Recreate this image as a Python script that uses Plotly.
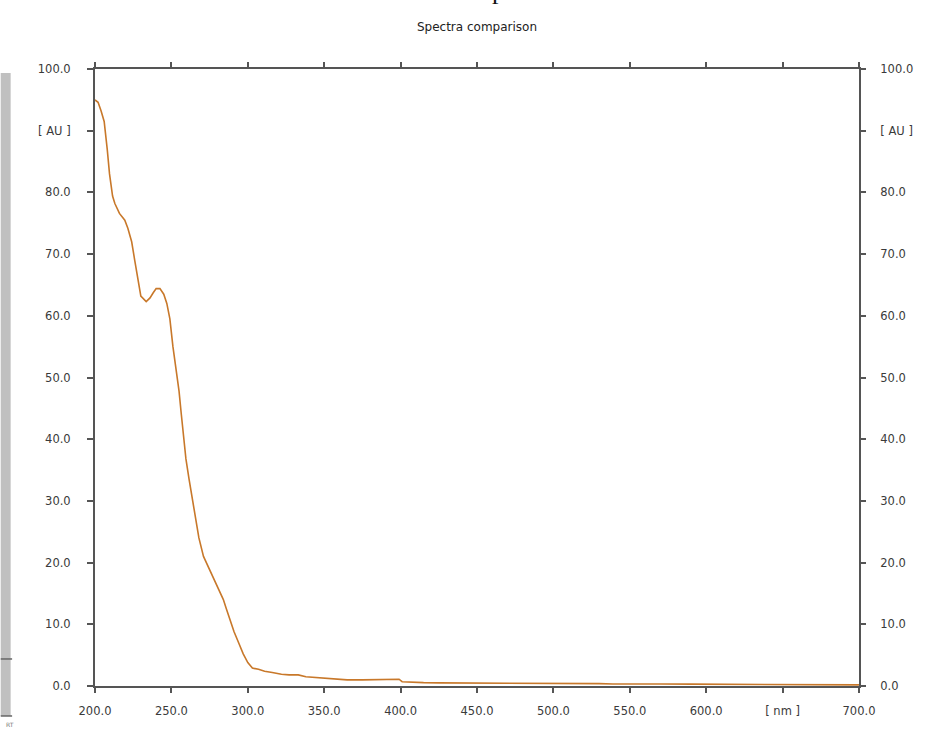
import plotly.graph_objects as go

# Absorbance spectrum (wavelength in nm, absorbance in AU)
wavelength = [200, 202, 204, 206, 208, 209.5, 211.5, 213, 216, 219.5, 221.5, 224, 226, 228, 230,
              233.5, 236, 238, 240, 242.5, 245, 247, 249, 251, 253, 255, 256.5, 258, 259.5, 261.5,
              264, 266, 268, 271, 274, 278, 281, 284, 286, 288, 291, 294, 297, 300, 303, 307, 311,
              316, 322, 327, 333, 338, 344, 350, 357, 365, 375, 387, 393, 399, 401, 408, 415, 425,
              437, 447, 459, 474, 490, 505, 517, 530, 539, 550, 570, 590, 605, 620, 640, 660, 680, 700]
absorbance = [95.0, 94.6, 93.2, 91.5, 87.0, 83.0, 79.4, 78.2, 76.6, 75.5, 74.2, 72.0, 69.0, 65.8, 63.2,
              62.3, 62.9, 63.7, 64.4, 64.4, 63.5, 62.0, 59.5, 55.0, 51.8, 47.8, 44.0, 40.6, 36.8, 33.6,
              30.0, 26.9, 24.0, 21.0, 19.4, 17.2, 15.5, 14.0, 12.5, 11.0, 8.8, 7.0, 5.2, 3.8, 2.9, 2.7, 2.4,
              2.2, 1.9, 1.8, 1.8, 1.5, 1.4, 1.2, 1.1, 1.0, 1.0, 1.0, 1.0, 1.1, 0.7, 0.6, 0.55, 0.5,
              0.5, 0.45, 0.5, 0.45, 0.42, 0.4, 0.4, 0.38, 0.32, 0.35, 0.33, 0.3, 0.28, 0.25, 0.22, 0.2, 0.2, 0.18]

x_ticks = [200, 250, 300, 350, 400, 450, 500, 550, 600, 650, 700]
x_labels = ["200.0", "250.0", "300.0", "350.0", "400.0", "450.0", "500.0", "550.0", "600.0", "[ nm ]", "700.0"]
y_ticks = [0, 10, 20, 30, 40, 50, 60, 70, 80, 90, 100]
y_labels = ["0.0", "10.0", "20.0", "30.0", "40.0", "50.0", "60.0", "70.0", "80.0", "[ AU ]", "100.0"]

LINE = "#c8782a"
AXIS = "#555555"
TXT = "#3a3a3a"
tick_font = dict(family="DejaVu Sans", size=11.5, color=TXT)

fig = go.Figure()
fig.add_trace(go.Scatter(x=wavelength, y=absorbance, mode="lines",
                         line=dict(color=LINE, width=1.6), hoverinfo="x+y", showlegend=False))
# transparent copy so the right-hand axis is laid out
fig.add_trace(go.Scatter(x=wavelength, y=absorbance, mode="lines", yaxis="y2",
                         line=dict(color="rgba(0,0,0,0)", width=0), hoverinfo="skip", showlegend=False))

fig.update_layout(
    width=925, height=740,
    margin=dict(l=95, r=60, t=69, b=54),
    paper_bgcolor="white", plot_bgcolor="white",
    title=dict(text="Spectra comparison", x=0.5, xref="paper", xanchor="center",
               y=1 - 27 / 740, yref="container", yanchor="middle",
               font=dict(family="DejaVu Sans", size=12, color="#222")),
    xaxis=dict(range=[200, 700], tickvals=x_ticks, ticktext=x_labels, showgrid=False, zeroline=False,
               showline=True, linecolor=AXIS, linewidth=2, mirror="ticks",
               ticks="outside", ticklen=5, tickwidth=1.5, tickcolor=AXIS,
               tickfont=tick_font, ticklabelstandoff=8),
    yaxis=dict(range=[0, 100], tickvals=y_ticks, ticktext=y_labels, showgrid=False, zeroline=False,
               showline=True, linecolor=AXIS, linewidth=2, mirror=True,
               ticks="outside", ticklen=6, tickwidth=1.5, tickcolor=AXIS,
               tickfont=tick_font, ticklabelstandoff=14),
    yaxis2=dict(range=[0, 100], tickvals=y_ticks, ticktext=y_labels, overlaying="y", side="right",
                showgrid=False, zeroline=False, showline=False,
                ticks="outside", ticklen=6, tickwidth=1.5, tickcolor=AXIS,
                tickfont=tick_font, ticklabelstandoff=12),
    shapes=[
        dict(type="rect", xref="paper", yref="paper", x0=-0.1234, x1=-0.1104, y0=-0.0486, y1=0.9935,
             fillcolor="#c0c0c0", line=dict(width=0), layer="below"),
        dict(type="line", xref="paper", yref="paper", x0=-0.1234, x1=-0.1085, y0=0.0438, y1=0.0438,
             line=dict(color="#666", width=1.5)),
        dict(type="line", xref="paper", yref="paper", x0=-0.1234, x1=-0.1085, y0=-0.0486, y1=-0.0486,
             line=dict(color="#666", width=1.5)),
    ],
    annotations=[
        dict(text="RT", xref="paper", yref="paper", x=-0.1195, y=-0.0632, xanchor="left", yanchor="middle",
             showarrow=False, font=dict(family="DejaVu Sans", size=6, color="#777")),
        dict(text="p", xref="paper", yref="paper", x=(502 - 95) / 770, y=(686 - 7) / 617,
             xanchor="center", yanchor="bottom", showarrow=False,
             font=dict(family="Liberation Serif", size=26, color="#111")),
    ],
)

fig.write_html("out.html")
